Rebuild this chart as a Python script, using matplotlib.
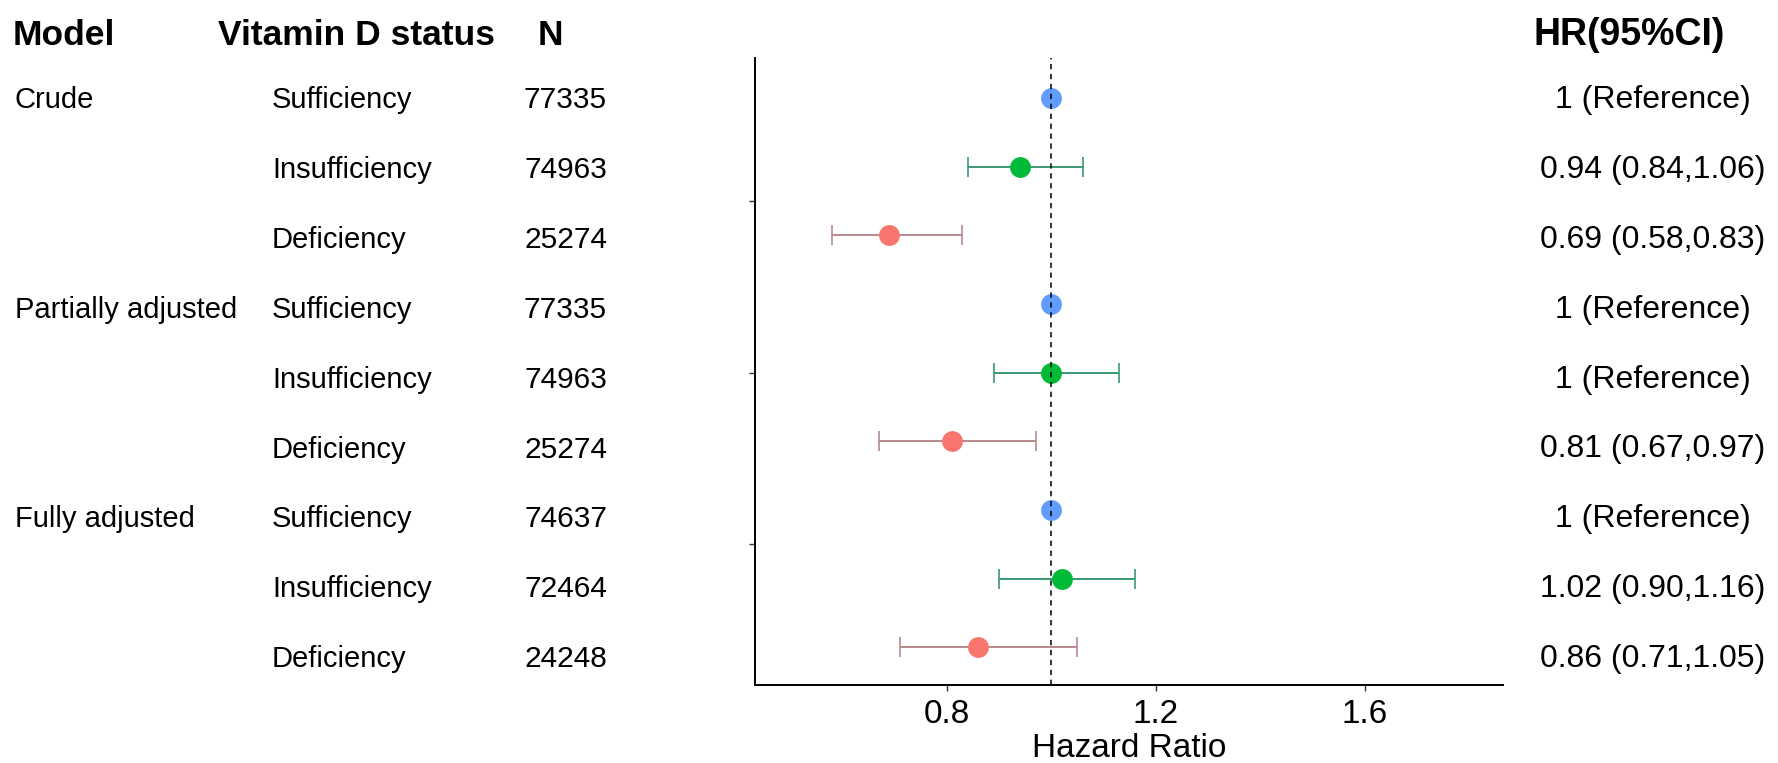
import numpy as np
import matplotlib
matplotlib.use("Agg")
import matplotlib.pyplot as plt

plt.rcParams['font.family'] = ['Liberation Sans', 'DejaVu Sans']

# table data
models = ['Crude', 'Partially adjusted', 'Fully adjusted']
status = ['Sufficiency', 'Insufficiency', 'Deficiency'] * 3
counts = [77335, 74963, 25274, 77335, 74963, 25274, 74637, 72464, 24248]
hr = [1.00, 0.94, 0.69, 1.00, 1.00, 0.81, 1.00, 1.02, 0.86]
ci_low = [np.nan, 0.84, 0.58, np.nan, 0.89, 0.67, np.nan, 0.90, 0.71]
ci_high = [np.nan, 1.06, 0.83, np.nan, 1.13, 0.97, np.nan, 1.16, 1.05]
hr_text = ['1 (Reference)', '0.94 (0.84,1.06)', '0.69 (0.58,0.83)',
           '1 (Reference)', '1 (Reference)', '0.81 (0.67,0.97)',
           '1 (Reference)', '1.02 (0.90,1.16)', '0.86 (0.71,1.05)']
headers = ['Model', 'Vitamin D status', 'N', 'HR(95%CI)']
xticks = [0.8, 1.2, 1.6]

point_colors = {'Sufficiency': '#619CFF', 'Insufficiency': '#00BA38', 'Deficiency': '#F8766D'}
bar_colors = {'Sufficiency': '#619CFF', 'Insufficiency': '#3A9970', 'Deficiency': '#B88A8C'}

W, H = 1778, 763
fig = plt.figure(figsize=(W / 100, H / 100), dpi=100)
ax = fig.add_axes([755 / W, (H - 685) / H, (1503 - 755) / W, (685 - 58) / H])

rows = np.arange(1, len(status) + 1)

ax.axvline(1.0, color='black', linestyle=(0, (3.5, 3)), linewidth=1.1, zorder=5)

for y, s, h, lo, hi in zip(rows, status, hr, ci_low, ci_high):
    if not np.isnan(lo):
        ax.errorbar(h, y, xerr=[[h - lo], [hi - h]], fmt='none',
                    ecolor=bar_colors[s], elinewidth=1.4, capsize=7.5, capthick=1.2, zorder=2)
    ax.plot(h, y, 'o', color=point_colors[s], markersize=15, markeredgewidth=0, zorder=3)

ax.set_xlim(0.433, 1.865)
ax.set_ylim(9.55, 0.42)
ax.set_xticks(xticks)
ax.set_xticklabels([f'{t:.1f}' for t in xticks])
ax.set_yticks([2.5, 5, 7.5])
ax.set_yticklabels([])
ax.tick_params(axis='both', length=4, width=1, color='#333333', direction='out')
ax.tick_params(axis='x', labelsize=24, pad=6)
ax.set_xlabel('Hazard Ratio', fontsize=24, labelpad=2)
for side in ['top', 'right']:
    ax.spines[side].set_visible(False)
for side in ['left', 'bottom']:
    ax.spines[side].set_linewidth(1.4)
    ax.spines[side].set_color('black')


def put(x_px, base_px, txt, **kw):
    # place text by pixel position (x, baseline) measured from the top-left corner
    fig.text(x_px / W, 1 - base_px / H, txt, va='baseline', **kw)


head_base = 45
put(13, head_base, headers[0], fontsize=25.5, fontweight='bold')
put(218, head_base, headers[1], fontsize=25.5, fontweight='bold')
put(550, head_base, headers[2], fontsize=25.5, fontweight='bold', ha='center')
put(1533, head_base, headers[3], fontsize=27, fontweight='bold')

text_base = 108 + 69.9 * (rows - 1)
for i, m in enumerate(models):
    put(15, text_base[i * 3], m, fontsize=21)
for b, s, n, t in zip(text_base, status, counts, hr_text):
    put(272, b, s, fontsize=21)
    put(607, b, str(n), fontsize=21.5, ha='right')
    put(1653, b, t, fontsize=23, ha='center')

fig.savefig('out.png', dpi=100)
